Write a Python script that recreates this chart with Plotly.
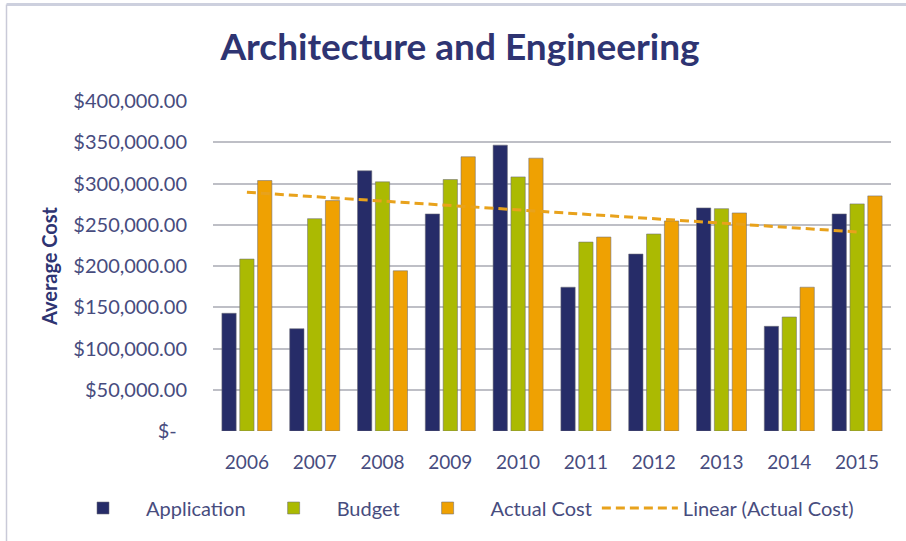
import numpy as np
import plotly.graph_objects as go

years = ["2006", "2007", "2008", "2009", "2010", "2011", "2012", "2013", "2014", "2015"]
application = [142700, 124000, 315400, 263100, 346500, 174300, 214500, 270400, 126900, 263100]
budget = [208400, 257400, 302000, 304800, 308000, 229000, 238800, 269500, 138200, 275300]
actual_cost = [303600, 279300, 194200, 332400, 330700, 235100, 254600, 264300, 174300, 285000]
y_tick_vals = [0, 50000, 100000, 150000, 200000, 250000, 300000, 350000, 400000]
y_tick_text = ["$-\u00a0\u00a0", "$50,000.00", "$100,000.00", "$150,000.00", "$200,000.00",
               "$250,000.00", "$300,000.00", "$350,000.00", "$400,000.00"]

# Excel-style linear trendline of Actual Cost
xi = np.arange(len(years))
slope, intercept = np.polyfit(xi, actual_cost, 1)
trend = (slope * xi + intercept).tolist()

FONT = "Lato"
TXT = "#474C7E"
NAVY = "#2E3472"

# plot area in pixels
L, R, T, B = 213, 15, 101, 110
W, H = 906, 541
pw, ph = W - L - R, H - T - B

def px(x):
    return (x - L) / pw

def py(y):
    return (H - B - y) / ph

fig = go.Figure()
outline = dict(color="rgba(110,110,120,0.55)", width=1)
fig.add_trace(go.Bar(x=years, y=application, name="Application",
                     marker=dict(color="#262C68", line=outline)))
fig.add_trace(go.Bar(x=years, y=budget, name="Budget",
                     marker=dict(color="#ABBA02", line=outline)))
fig.add_trace(go.Bar(x=years, y=actual_cost, name="Actual Cost",
                     marker=dict(color="#EFA102", line=outline)))
fig.add_trace(go.Scatter(x=years, y=trend, name="Linear (Actual Cost)", mode="lines",
                         line=dict(color="#E8A21C", width=3, dash="9px,5px")))

fig.update_layout(
    width=W, height=H,
    margin=dict(l=L, r=R, t=T, b=B, pad=0),
    paper_bgcolor="white", plot_bgcolor="white",
    font=dict(family=FONT, color=TXT, size=20),
    barmode="group", bargap=0.21, bargroupgap=0.2,
    title=dict(text="<b>Architecture and Engineering</b>", x=460 / W, xanchor="center",
               y=1 - 47 / H, yanchor="middle", font=dict(family=FONT, size=37, color=NAVY)),
    xaxis=dict(showgrid=False, showline=False, zeroline=False, ticks="outside", ticklen=14,
               tickcolor="rgba(0,0,0,0)", tickfont=dict(size=19, color=TXT)),
    yaxis=dict(range=[0, 400000], tickvals=y_tick_vals, ticktext=y_tick_text,
               showgrid=True, gridcolor="#BEBFC6", gridwidth=2, zeroline=False, showline=False,
               ticks="outside", ticklen=21, tickcolor="rgba(0,0,0,0)",
               tickfont=dict(size=20, color=TXT),
               title=dict(text="<b>Average Cost</b>", standoff=10,
                          font=dict(size=20, color=NAVY))),
    legend=dict(orientation="h", x=px(60), xanchor="left", y=py(508), yanchor="middle",
                font=dict(size=20, color=TXT), bgcolor="rgba(0,0,0,0)",
                itemwidth=76, traceorder="normal"),
    showlegend=True,
    shapes=[
        dict(type="line", xref="paper", yref="paper", x0=px(6.5), x1=px(906), y0=py(4.5), y1=py(4.5),
             line=dict(color="#CDD0DE", width=3)),
        dict(type="line", xref="paper", yref="paper", x0=px(6.5), x1=px(6.5), y0=py(4.5), y1=py(541),
             line=dict(color="#C9CAD8", width=1.5)),
    ],
)

fig.write_html("out.html", config={"displayModeBar": False},
               post_script="document.body.style.margin='0';")
